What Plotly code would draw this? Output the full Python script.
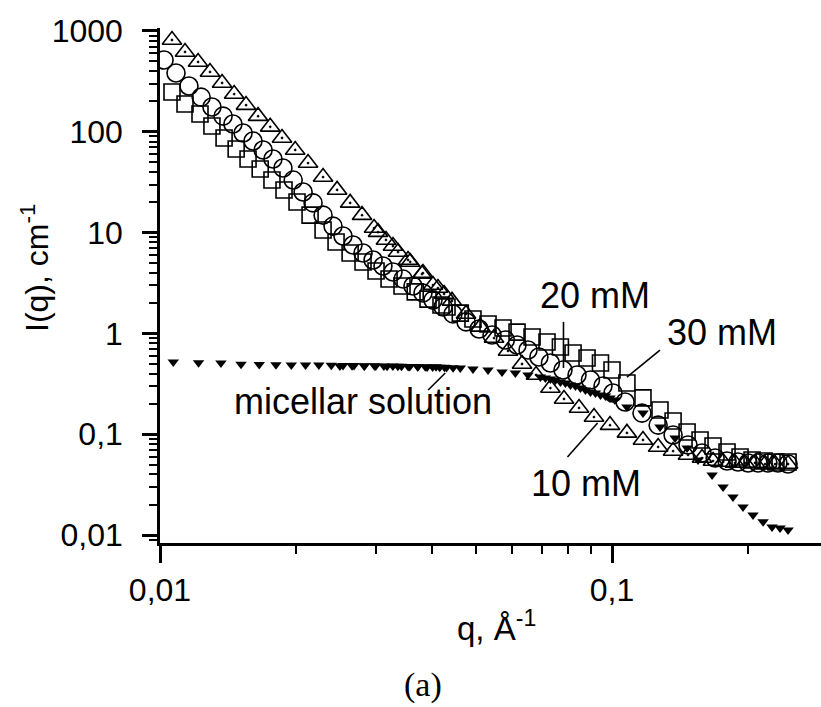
import math
import plotly.graph_objects as go

# SANS intensity I(q) for three concentrations and the micellar solution
q_10mM = [0.01063, 0.01136, 0.01214, 0.01290, 0.01372, 0.01459, 0.01550, 0.01648, 0.01753, 0.01862,
          0.01991, 0.02126, 0.02295, 0.02465, 0.02634, 0.02799, 0.02976, 0.03162, 0.03362, 0.03577,
          0.03799, 0.04018, 0.04251,
          0.03037, 0.03277, 0.03538, 0.03818, 0.04121, 0.04426, 0.04754, 0.05113, 0.05483, 0.05888,
          0.06324, 0.06792, 0.07307, 0.07831, 0.08454, 0.09124, 0.09899, 0.1079, 0.1171, 0.1265,
          0.1365, 0.1473, 0.1582, 0.1673, 0.1761, 0.1871, 0.1969, 0.2072, 0.2181, 0.2295, 0.2452]
I_10mM = [814, 619, 493, 392, 305, 237, 184, 143, 112, 86.8,
          66.0, 49.0, 35.6, 26.5, 19.7, 14.9, 11.1, 8.45, 6.42, 5.11,
          3.88, 3.02, 2.46,
          10.1, 7.36, 5.35, 3.97, 2.82, 2.10, 1.56, 1.16, 0.900, 0.669,
          0.497, 0.387, 0.287, 0.2235, 0.182, 0.148, 0.123, 0.103, 0.0876, 0.0747,
          0.0681, 0.0622, 0.0580, 0.0542, 0.0530, 0.0518, 0.0518, 0.0518, 0.0506, 0.0506, 0.0506]

q_20mM = [0.01021, 0.01085, 0.01159, 0.01233, 0.01303, 0.01379, 0.01450, 0.01527, 0.01606, 0.01691,
          0.01778, 0.01871, 0.01971, 0.02073, 0.02181, 0.02295, 0.02414, 0.02540, 0.02673, 0.02813,
          0.02961, 0.03114, 0.03277, 0.03449, 0.03628, 0.03818, 0.04018, 0.04230,
          0.04448, 0.04754, 0.05081, 0.05428, 0.05808, 0.06165, 0.06519, 0.06891, 0.07307, 0.07791,
          0.08368, 0.08961, 0.09552, 0.1005, 0.1069, 0.1165, 0.1265, 0.1365, 0.1473, 0.1582,
          0.1691, 0.1797, 0.1900, 0.2000, 0.2104, 0.2213, 0.2329, 0.2452]
I_20mM = [516, 383, 285, 221, 176, 143, 119.5, 97.3, 81.0, 66.0,
          53.7, 43.7, 33.2, 25.3, 19.7, 14.9, 11.6, 9.25, 7.53, 6.27,
          5.35, 4.66, 4.07, 3.46, 2.95, 2.52, 2.14, 1.83,
          1.56, 1.30, 1.105, 0.964, 0.860, 0.767, 0.684, 0.583, 0.509, 0.433,
          0.387, 0.345, 0.301, 0.256, 0.2087, 0.162, 0.123, 0.0982, 0.0781, 0.0651,
          0.0580, 0.0542, 0.0530, 0.0518, 0.0518, 0.0518, 0.0518, 0.0506]

q_30mM = [0.01063, 0.01136, 0.01226, 0.01303, 0.01386, 0.01474, 0.01566, 0.01666, 0.01769, 0.01881,
          0.02010, 0.02148, 0.02295, 0.02452, 0.02634, 0.02813, 0.03006, 0.03212, 0.03431, 0.03670,
          0.03917, 0.04185,
          0.04315, 0.04617, 0.04925, 0.05318, 0.05741, 0.06165, 0.06655, 0.07182, 0.07689, 0.08201,
          0.08806, 0.09430, 0.1000, 0.1079, 0.1171, 0.1277, 0.1365, 0.1466, 0.1566, 0.1673,
          0.1797, 0.1920, 0.2041, 0.2170, 0.2305, 0.2452]
I_30mM = [248, 189, 150, 114, 86.8, 67.5, 53.7, 42.7, 33.2, 26.5,
          20.1, 14.9, 10.6, 8.07, 6.27, 5.11, 4.16, 3.46, 2.95, 2.58,
          2.19, 1.91,
          1.83, 1.59, 1.39, 1.24, 1.13, 1.03, 0.921, 0.822, 0.733, 0.639,
          0.570, 0.509, 0.433, 0.322, 0.229, 0.174, 0.135, 0.105, 0.0876, 0.0764,
          0.0666, 0.0594, 0.0555, 0.0542, 0.0530, 0.0530]

q_mic = [0.0107, 0.01217, 0.01364, 0.01511, 0.01658, 0.01805, 0.01952, 0.02099, 0.02246, 0.02393,
         0.0254, 0.02687, 0.02834, 0.02981, 0.03128, 0.03275, 0.03422, 0.03569, 0.03716, 0.03863,
         0.0401, 0.04157, 0.04304, 0.04451,
         0.0250, 0.0266, 0.0283, 0.0300, 0.0318, 0.0336, 0.0354, 0.0372, 0.0390, 0.0408, 0.0426,
         0.04617, 0.04925, 0.05318, 0.05711, 0.06112, 0.06519, 0.06943,
         0.07123, 0.07307, 0.07496, 0.07689, 0.07888, 0.08092, 0.08301, 0.08515, 0.08735, 0.08961,
         0.09192, 0.0943, 0.09673, 0.09899, 0.1015,
         0.1079, 0.1171, 0.1277, 0.1379, 0.1466, 0.1550, 0.1665, 0.1761, 0.1852, 0.1949,
         0.2051, 0.2159, 0.2260, 0.2354, 0.2452]
I_mic = [0.520, 0.510, 0.509, 0.494, 0.490, 0.488, 0.487, 0.486, 0.485, 0.483,
         0.481, 0.480, 0.478, 0.477, 0.475, 0.474, 0.472, 0.470, 0.468, 0.466,
         0.464, 0.462, 0.459, 0.456,
         0.476, 0.478, 0.474, 0.476, 0.471, 0.473, 0.469, 0.470, 0.465, 0.466, 0.461,
         0.454, 0.443, 0.433, 0.414, 0.405, 0.387, 0.369,
         0.360, 0.352, 0.345, 0.329, 0.322, 0.308, 0.301, 0.287, 0.274, 0.262,
         0.256, 0.245, 0.239, 0.229, 0.218,
         0.186, 0.162, 0.118, 0.0917, 0.0730, 0.0555, 0.0394, 0.0299, 0.0238, 0.0190,
         0.0158, 0.0135, 0.0120, 0.0117, 0.0112]

# axis ticks
x_major = [0.01, 0.1]
x_major_text = ["0,01", "0,1"]
x_minor = [0.02, 0.03, 0.04, 0.05, 0.06, 0.07, 0.08, 0.09, 0.2]
y_major = [0.01, 0.1, 1, 10, 100, 1000]
y_major_text = ["0,01", "0,1", "1", "10", "100", "1000"]
y_minor = [m * 10.0 ** k for k in range(-3, 3) for m in range(2, 10)]

# curve labels: text, text position (q, I), pointer start and end (q, I)
labels = [
    ("20 mM", (0.0919, 2.35), (0.0781, 1.30), (0.0781, 0.454)),
    ("30 mM", (0.1752, 1.03), (0.1277, 0.684), (0.1079, 0.369)),
    ("10 mM", (0.0874, 0.0328), (0.0797, 0.0594), (0.0929, 0.129)),
    ("micellar solution", (0.0281, 0.213), (0.0392, 0.2745), (0.04277, 0.405)),
]

FONT = "Liberation Sans"

fig = go.Figure()

series = [
    (q_30mM, I_30mM, "square-open", 16, 1.6),
    (q_20mM, I_20mM, "circle-open", 18, 1.6),
    (q_10mM, I_10mM, "triangle-up-open-dot", 17, 1.6),
]
for q, I, sym, size, lw in series:
    fig.add_trace(go.Scatter(
        x=q, y=I, mode="markers",
        marker=dict(symbol=sym, size=size, color="black", line=dict(width=lw, color="black")),
        showlegend=False, hoverinfo="skip"))

fig.add_trace(go.Scatter(
    x=q_mic, y=I_mic, mode="markers",
    marker=dict(symbol="triangle-down", size=10, color="black", line=dict(width=0)),
    showlegend=False, hoverinfo="skip"))

for text, (tq, ti), (q0, i0), (q1, i1) in labels:
    fig.add_trace(go.Scatter(
        x=[q0, q1], y=[i0, i1], mode="lines",
        line=dict(color="black", width=1.6),
        showlegend=False, hoverinfo="skip"))
    fig.add_annotation(
        x=math.log10(tq), y=math.log10(ti), xref="x", yref="y",
        text=text, showarrow=False,
        font=dict(family=FONT, size=36, color="black"),
        xanchor="center", yanchor="middle")

# axis titles and panel tag placed in paper coordinates
W, H = 821, 707
L, R, T, B = 160, 0, 28, 164
pw, ph = W - L - R, H - T - B


def paper(px, py):
    return (px - L) / pw, (H - B - py) / ph


ax_, ay_ = paper(35, 268)
fig.add_annotation(x=ax_, y=ay_, xref="paper", yref="paper",
                   text="I(q), cm<sup>-1</sup>", textangle=-90, showarrow=False,
                   font=dict(family=FONT, size=32, color="black"),
                   xanchor="center", yanchor="middle")
bx_, by_ = paper(496, 626)
fig.add_annotation(x=bx_, y=by_, xref="paper", yref="paper",
                   text="q, Å<sup>-1</sup>", showarrow=False,
                   font=dict(family=FONT, size=33, color="black"),
                   xanchor="center", yanchor="middle")
cx_, cy_ = paper(423, 685)
fig.add_annotation(x=cx_, y=cy_, xref="paper", yref="paper",
                   text="(a)", showarrow=False,
                   font=dict(family="Liberation Serif", size=34, color="black"),
                   xanchor="center", yanchor="middle")

axis_common = dict(
    type="log", showline=True, linecolor="black", linewidth=2.5,
    ticks="outside", tickcolor="black", tickwidth=2.5,
    showgrid=False, zeroline=False, mirror=False,
    tickfont=dict(family=FONT, size=32, color="black"),
)

fig.update_xaxes(
    **axis_common,
    range=[-2, -0.5376], ticklen=17,
    tickmode="array", tickvals=x_major, ticktext=x_major_text,
    minor=dict(tickmode="array", tickvals=x_minor, ticks="outside", ticklen=8,
               tickwidth=2, tickcolor="black", showgrid=False),
)
fig.update_yaxes(
    **axis_common,
    range=[-2.0794, 3.0297], ticklen=15,
    tickmode="array", tickvals=y_major, ticktext=y_major_text,
    ticklabelstandoff=13,
    minor=dict(tickmode="array", tickvals=y_minor, ticks="outside", ticklen=8,
               tickwidth=2, tickcolor="black", showgrid=False),
)

fig.update_layout(
    width=W, height=H,
    margin=dict(l=L, r=R, t=T, b=B, pad=0),
    paper_bgcolor="white", plot_bgcolor="white",
    font=dict(family=FONT, color="black"),
    showlegend=False,
)

fig.write_html("out.html")
